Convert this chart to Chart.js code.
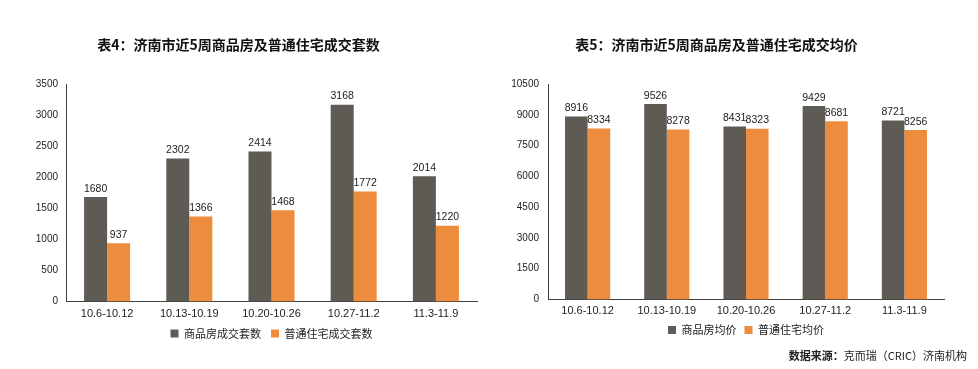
<!DOCTYPE html>
<html>
<head>
<meta charset="utf-8">
<script src="https://cdn.jsdelivr.net/npm/chart.js@4"></script>
<style>
  html, body { margin: 0; padding: 0; background: #fff; }
  #wrap { position: relative; width: 978px; height: 369px; overflow: hidden; }
  canvas { position: absolute; top: 0; }
  #left { left: 0; }
  #right { left: 489px; }
  #source {
    position: absolute; right: 11px; top: 347px;
    font: 11px "Noto Sans CJK SC", sans-serif; color: #222; white-space: nowrap;
  }
  #source b { font-weight: bold; }
</style>
</head>
<body>
<div id="wrap">
  <canvas id="left" width="489" height="369"></canvas>
  <canvas id="right" width="489" height="369"></canvas>
  <div id="source"><b>数据来源：</b>克而瑞（CRIC）济南机构</div>
</div>
<script>
const weeks = ['10.6-10.12', '10.13-10.19', '10.20-10.26', '10.27-11.2', '11.3-11.9'];

// 表4 成交套数
const countTitle = '表4：济南市近5周商品房及普通住宅成交套数';
const countLabels = ['商品房成交套数', '普通住宅成交套数'];
const commercialCount = [1680, 2302, 2414, 3168, 2014];
const residentialCount = [937, 1366, 1468, 1772, 1220];

// 表5 成交均价
const priceTitle = '表5：济南市近5周商品房及普通住宅成交均价';
const priceLabels = ['商品房均价', '普通住宅均价'];
const commercialPrice = [8916, 9526, 8431, 9429, 8721];
const residentialPrice = [8334, 8278, 8323, 8681, 8256];

const DARK = '#5e5a54';
const ORANGE = '#ee8c3d';
const CJK = '"Noto Sans CJK SC", "Noto Sans", sans-serif';
const LATIN = '"Liberation Sans", Arial, sans-serif';

const valueLabels = {
  id: 'valueLabels',
  afterDatasetsDraw(chart) {
    const ctx = chart.ctx;
    ctx.save();
    ctx.font = '10.5px ' + LATIN;
    ctx.fillStyle = '#222';
    ctx.textAlign = 'center';
    ctx.textBaseline = 'bottom';
    chart.data.datasets.forEach((ds, i) => {
      chart.getDatasetMeta(i).data.forEach((bar, j) => {
        ctx.fillText(String(ds.data[j]), bar.x, bar.y - 3);
      });
    });
    ctx.restore();
  },
};

function makeChart(canvasId, opts) {
  const ctx = document.getElementById(canvasId).getContext('2d');
  return new Chart(ctx, {
    type: 'bar',
    data: {
      labels: weeks,
      datasets: [
        { label: opts.labels[0], data: opts.series[0], backgroundColor: DARK },
        { label: opts.labels[1], data: opts.series[1], backgroundColor: ORANGE },
      ],
    },
    plugins: [valueLabels],
    options: {
      responsive: false,
      animation: false,
      devicePixelRatio: 1,
      categoryPercentage: opts.groupWidth,
      barPercentage: 1,
      layout: { padding: { left: 0, right: opts.padRight, top: 0, bottom: opts.padBottom } },
      scales: {
        x: {
          grid: { display: false, drawTicks: false },
          border: { display: true, color: '#404040', width: 1 },
          ticks: { color: '#222', font: { family: LATIN, size: 11 }, padding: opts.xPad, maxRotation: 0 },
          afterFit: (scale) => { scale.height = opts.xHeight; },
        },
        y: {
          min: 0,
          max: opts.max,
          grid: { display: false, drawTicks: false },
          border: { display: true, color: '#404040', width: 1 },
          ticks: {
            stepSize: opts.step,
            color: '#222',
            font: { family: LATIN, size: 10 },
            padding: opts.yPad,
            callback: (value) => String(value),
          },
          afterFit: (scale) => { scale.width = opts.yWidth; },
        },
      },
      plugins: {
        title: {
          display: true,
          text: opts.title,
          color: '#111',
          font: { family: CJK, size: 14, weight: 'bold' },
          padding: { top: 36, bottom: 31.2 },
        },
        legend: {
          position: 'bottom',
          fullSize: false,
          labels: {
            boxWidth: 8,
            boxHeight: 8,
            padding: opts.legendPad,
            color: '#222',
            font: { family: CJK, size: 11 },
          },
        },
        tooltip: { enabled: false },
      },
    },
  });
}

makeChart('left', {
  title: countTitle,
  labels: countLabels,
  series: [commercialCount, residentialCount],
  max: 3500,
  step: 500,
  yWidth: 66,
  yPad: 8,
  padRight: 12,
  padBottom: 20,
  xHeight: 16.5,
  xPad: 6,
  legendPad: 10,
  groupWidth: 0.56,
});

makeChart('right', {
  title: priceTitle,
  labels: priceLabels,
  series: [commercialPrice, residentialPrice],
  max: 10500,
  step: 1500,
  yWidth: 59,
  yPad: 9,
  padRight: 34,
  padBottom: 23.5,
  xHeight: 17,
  xPad: 5,
  legendPad: 8,
  groupWidth: 0.57,
});
</script>
</body>
</html>
